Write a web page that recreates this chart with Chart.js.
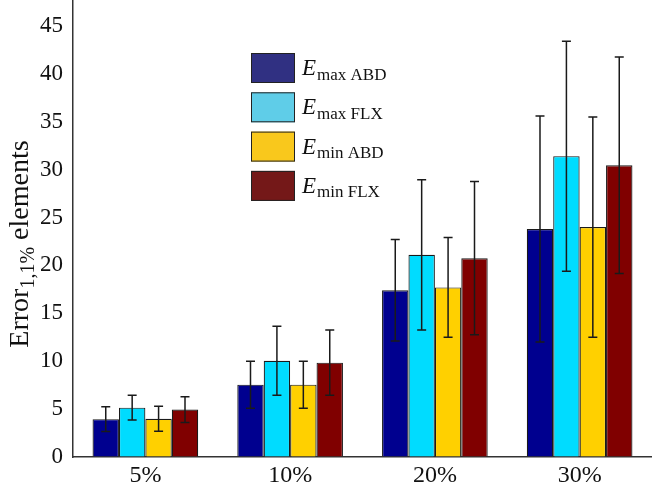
<!DOCTYPE html>
<html>
<head>
<meta charset="utf-8">
<script src="https://cdn.jsdelivr.net/npm/chart.js@4"></script>
<style>
  html, body { margin: 0; padding: 0; background: #fff; }
  #wrap { width: 652px; height: 488px; position: relative; }
</style>
</head>
<body>
<div id="wrap"><canvas id="errChart"></canvas></div>
<script>
// Mean error per noise level, with symmetric error bars.
const categories = ['5%', '10%', '20%', '30%'];
const seriesSymbol = 'E';
const seriesSub = ['max ABD', 'max FLX', 'min ABD', 'min FLX'];

const maxABD = [3.95, 7.55, 17.4, 23.8];
const maxFLX = [5.15, 10.05, 21.1, 31.4];
const minABD = [4.0, 7.55, 17.7, 24.0];
const minFLX = [4.95, 9.85, 20.75, 30.45];

const errMaxABD = [1.3, 2.45, 5.3, 11.8];
const errMaxFLX = [1.3, 3.6, 7.85, 12.0];
const errMinABD = [1.3, 2.45, 5.2, 11.5];
const errMinFLX = [1.35, 3.4, 8.0, 11.3];

const yTicks = [0, 5, 10, 15, 20, 25, 30, 35, 40, 45];

const barColors = ['#00008f', '#00dcff', '#ffd000', '#800000'];
const keyColors = ['#303082', '#5fcde8', '#f9c81c', '#741818'];
const serif = '"Liberation Serif", "Times New Roman", serif';

const means = [maxABD, maxFLX, minABD, minFLX];
const errs = [errMaxABD, errMaxFLX, errMinABD, errMinFLX];

// error bars drawn from the chart's own scales
const errorBars = {
    id: 'errorBars',
    afterDatasetsDraw(chart) {
        const ctx = chart.ctx;
        const y = chart.scales.y;
        ctx.save();
        ctx.strokeStyle = '#1a1a1a';
        ctx.lineWidth = 1.5;
        chart.data.datasets.forEach((ds, i) => {
            const meta = chart.getDatasetMeta(i);
            meta.data.forEach((bar, j) => {
                const hi = y.getPixelForValue(ds.data[j] + ds.err[j]);
                const lo = y.getPixelForValue(ds.data[j] - ds.err[j]);
                const x = bar.x;
                ctx.beginPath();
                ctx.moveTo(x, hi); ctx.lineTo(x, lo);
                ctx.moveTo(x - 4.5, hi); ctx.lineTo(x + 4.5, hi);
                ctx.moveTo(x - 4.5, lo); ctx.lineTo(x + 4.5, lo);
                ctx.stroke();
            });
        });
        ctx.restore();
    }
};

// legend with subscripts, inside the plot
const subLegend = {
    id: 'subLegend',
    afterDraw(chart) {
        const ctx = chart.ctx;
        ctx.save();
        chart.data.datasets.forEach((ds, i) => {
            const top = 53 + i * 39.3;
            ctx.fillStyle = keyColors[i];
            ctx.fillRect(251, top, 44, 30);
            ctx.strokeStyle = '#222';
            ctx.lineWidth = 1;
            ctx.strokeRect(251.5, top + 0.5, 43, 29);
            ctx.fillStyle = '#111';
            ctx.textBaseline = 'alphabetic';
            ctx.textAlign = 'left';
            ctx.font = 'italic 23px ' + serif;
            ctx.fillText(seriesSymbol, 302, top + 22);
            const w = ctx.measureText(seriesSymbol).width;
            ctx.font = '17px ' + serif;
            ctx.fillText(seriesSub[i], 302 + w + 1, top + 26.5);
        });
        ctx.restore();
    }
};

// rotated y title: Error_{1,1%} elements
const yTitle = {
    id: 'yTitle',
    afterDraw(chart) {
        const ctx = chart.ctx;
        ctx.save();
        ctx.translate(28, 244);
        ctx.rotate(-Math.PI / 2);
        ctx.fillStyle = '#111';
        ctx.textBaseline = 'alphabetic';
        ctx.textAlign = 'left';
        const big = '28px ' + serif, small = '20px ' + serif;
        ctx.font = big;
        const w1 = ctx.measureText('Error').width;
        const w3 = ctx.measureText(' elements').width;
        ctx.font = small;
        const w2 = ctx.measureText('1,1%').width;
        let x = -(w1 + w2 + w3) / 2;
        ctx.font = big;
        ctx.fillText('Error', x, 0);
        x += w1;
        ctx.font = small;
        ctx.fillText('1,1%', x, 6);
        x += w2;
        ctx.font = big;
        ctx.fillText(' elements', x, 0);
        ctx.restore();
    }
};

new Chart(document.getElementById('errChart').getContext('2d'), {
    type: 'bar',
    data: {
        labels: categories,
        datasets: means.map((m, i) => ({
            label: seriesSymbol + ' ' + seriesSub[i],
            data: m,
            err: errs[i],
            backgroundColor: barColors[i],
            borderColor: '#1a1a1a',
            borderWidth: 1.2,
            categoryPercentage: 0.73,
            barPercentage: 1
        }))
    },
    options: {
        responsive: true,
        maintainAspectRatio: false,
        animation: false,
        layout: { padding: 0 },
        plugins: {
            legend: { display: false },
            tooltip: { enabled: false },
            title: { display: false }
        },
        scales: {
            x: {
                offset: true,
                grid: { drawOnChartArea: false, drawTicks: false },
                border: { color: '#333', width: 1.5 },
                ticks: { color: '#111', font: { family: serif, size: 24 }, padding: 4 },
                afterFit(s) { s.height = 31; s.paddingLeft = 0; s.paddingRight = 0; }
            },
            y: {
                min: 0,
                max: 47.7,
                afterBuildTicks(s) { s.ticks = yTicks.map(v => ({ value: v })); },
                grid: { drawOnChartArea: false, drawTicks: false },
                border: { color: '#333', width: 1.5 },
                ticks: { color: '#111', font: { family: serif, size: 23 }, padding: 10 },
                afterFit(s) { s.width = 73; s.paddingTop = 0; s.paddingBottom = 0; }
            }
        }
    },
    plugins: [errorBars, subLegend, yTitle]
});
</script>
</body>
</html>
